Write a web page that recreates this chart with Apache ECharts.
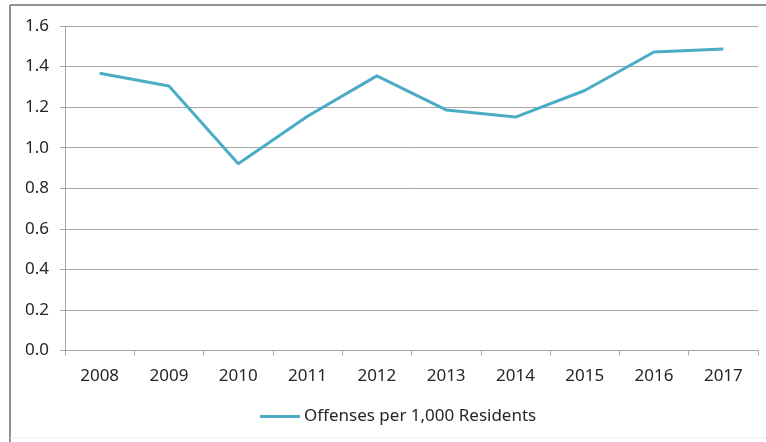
<!DOCTYPE html>
<html>
<head>
<meta charset="utf-8">
<script src="https://cdn.jsdelivr.net/npm/echarts@6/dist/echarts.min.js"></script>
<style>
  html, body { margin: 0; padding: 0; background: #ffffff; }
  #chart { width: 766px; height: 442px; }
</style>
</head>
<body>
<div id="chart"></div>
<script>
// Offense rate per 1,000 residents by year
const years = ['2008', '2009', '2010', '2011', '2012', '2013', '2014', '2015', '2016', '2017'];
const offenseRate = [1.367, 1.304, 0.921, 1.155, 1.354, 1.186, 1.151, 1.282, 1.472, 1.487];
const seriesName = 'Offenses per 1,000 Residents';

const chart = echarts.init(document.getElementById('chart'), null, { renderer: 'canvas' });
const font = 'Noto Sans';
const gray = '#a6a6a6';
const textColor = '#262626';

chart.setOption({
  backgroundColor: '#ffffff',
  animation: false,
  textStyle: { fontFamily: font },
  // chart-area frame: dark top and left edges, faint bottom edge
  graphic: [
    { type: 'line', shape: { x1: 10, y1: 5, x2: 766, y2: 5 },
      style: { stroke: '#6e6e6e', lineWidth: 1.5 }, silent: true },
    { type: 'line', shape: { x1: 10, y1: 5, x2: 10, y2: 442 },
      style: { stroke: '#6e6e6e', lineWidth: 1.5 }, silent: true },
    { type: 'line', shape: { x1: 10, y1: 438, x2: 766, y2: 438 },
      style: { stroke: '#ececec', lineWidth: 1 }, silent: true }
  ],
  grid: { left: 65, right: 8, top: 26, bottom: 91.5 },
  xAxis: {
    type: 'category',
    data: years,
    boundaryGap: true,
    axisLine: { show: true, lineStyle: { color: gray, width: 1 } },
    axisTick: { show: true, interval: 0, length: 5, lineStyle: { color: gray } },
    axisLabel: { color: textColor, fontSize: 17, margin: 17, fontFamily: font }
  },
  yAxis: {
    type: 'value',
    min: 0,
    max: 1.6,
    interval: 0.2,
    axisLine: { show: true, lineStyle: { color: gray, width: 1 } },
    axisTick: { show: true, length: 5, lineStyle: { color: gray } },
    splitLine: { show: true, lineStyle: { color: gray, width: 1 } },
    axisLabel: {
      color: textColor, fontSize: 17, margin: 16, fontFamily: font,
      formatter: v => v.toFixed(1)
    }
  },
  legend: {
    bottom: 17,
    left: 260,
    padding: 0,
    itemWidth: 40,
    itemHeight: 12,
    itemGap: 4,
    textStyle: { color: textColor, fontSize: 17, fontFamily: font, padding: [0, 0, 0, -1] },
    data: [{ name: seriesName, icon: 'path://M0,5 L40,5 L40,8 L0,8 Z' }]
  },
  series: [{
    name: seriesName,
    type: 'line',
    data: offenseRate,
    symbol: 'none',
    lineStyle: { color: '#4BACC6', width: 3 },
    itemStyle: { color: '#4BACC6' }
  }]
});
</script>
</body>
</html>
